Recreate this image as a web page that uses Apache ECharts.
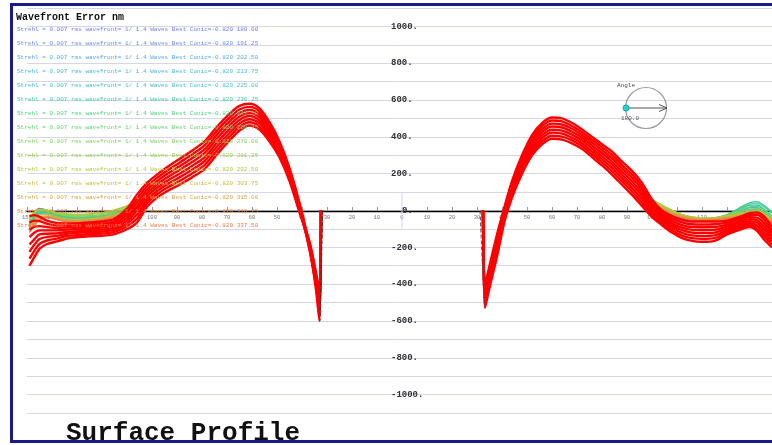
<!DOCTYPE html>
<html><head><meta charset="utf-8">
<script src="https://cdn.jsdelivr.net/npm/echarts@6/dist/echarts.min.js"></script>
<style>html,body{margin:0;padding:0;background:#fff}#c{width:772px;height:445px}</style>
</head><body><div id="c"></div>
<script>
// ---- data ----
const angles = ['180.00','191.25','202.50','213.75','225.00','236.25','247.50','258.75','270.00','281.25','292.50','303.75','315.00','326.25','337.50'];
const angleColors = ['#6f7cf2','#6a8ef0','#55a6ee','#45b6e2','#3ec2c6','#3ec9a2','#4fd07f','#62d26c','#7fd25a','#97cf45','#b3c83c','#c9bb3c','#d9a43e','#e58e40','#ee7c48'];
const xTicks = [-150,-140,-130,-120,-110,-100,-90,-80,-70,-60,-50,-40,-30,-20,-10,0,10,20,30,40,50,60,70,80,90,100,110,120,130,140];
const yTicks = [-1000,-800,-600,-400,-200,0,200,400,600,800,1000];

// signed radius positions for the full-diameter red profiles (null gap at centre)
const xPos = [-149,-147,-145,-142,-138,-134,-130,-125,-120,-115,-110,-106,-102,-98,-94,-89,-84,-79,-74,-69,-65,-61,-57,-53,-49,-45,-41,-37,-34.5,-33,-32.4,0,32.4,33.2,35,38,41,44,48,52,56,60,64,68,72,76,80,84,88,92,96,100,104,108,112,116,120,125,130,135,139,142,145,148];
const red1 = [-30,-25,-35,-55,-68,-70,-70,-65,-60,-45,10,85,150,195,235,280,325,375,455,525,568,580,555,480,375,230,40,-200,-420,-600,0,null,0,-400,-300,-130,20,160,300,410,475,505,500,475,440,400,360,320,265,215,150,60,0,-30,-50,-60,-60,-60,-55,-35,-15,-10,-35,-90];
const red2 = [-65,-55,-58,-72,-82,-82,-80,-76,-72,-58,-8,64,131,177,216,260,304,354,434,504,549,563,539,465,363,220,33,-190,-380,-575,0,null,0,-420,-317,-147,9,147,286,394,459,489,484,459,425,384,344,302,247,196,132,46,-11,-43,-64,-75,-76,-75,-66,-45,-26,-24,-53,-106];
const red3 = [-105,-88,-85,-90,-95,-92,-90,-86,-82,-70,-24,42,113,159,198,240,284,332,412,484,530,546,522,450,350,210,26,-215,-400,-550,0,null,0,-440,-334,-164,-3,134,271,379,442,472,467,444,410,369,327,284,229,178,114,33,-23,-56,-79,-90,-91,-90,-76,-55,-36,-39,-71,-121];
const red4 = [-145,-120,-108,-108,-108,-104,-100,-97,-93,-80,-40,21,94,141,179,220,263,311,391,463,511,529,506,435,338,200,19,-180,-360,-525,0,null,0,-455,-351,-181,-14,121,257,363,426,456,451,428,395,353,311,266,211,159,96,19,-34,-69,-93,-105,-107,-105,-87,-65,-47,-53,-89,-137];
const red5 = [-185,-155,-130,-126,-124,-116,-112,-107,-104,-93,-55,0,76,123,161,200,242,289,369,442,492,513,489,420,325,190,11,-205,-390,-500,0,null,0,-470,-369,-199,-26,109,243,347,409,439,434,412,380,337,294,249,194,141,79,6,-46,-81,-107,-120,-123,-120,-98,-75,-58,-67,-106,-153];
const red6 = [-225,-185,-155,-144,-138,-126,-122,-117,-114,-104,-70,-22,57,105,142,180,221,268,348,421,473,496,473,405,313,180,4,-175,-340,-480,0,null,0,-490,-386,-216,-37,96,229,331,393,423,418,396,365,321,278,231,176,122,61,-8,-57,-94,-121,-135,-139,-135,-109,-85,-69,-81,-124,-169];
const red7 = [-262,-218,-182,-163,-153,-138,-134,-128,-125,-116,-86,-43,39,88,124,160,201,246,326,401,454,479,456,390,300,170,-3,-195,-370,-455,0,null,0,-510,-403,-233,-49,83,214,316,376,406,401,381,350,306,261,213,158,104,43,-21,-69,-107,-136,-150,-154,-150,-119,-95,-79,-96,-142,-184];
const red8 = [-300,-252,-208,-182,-168,-152,-145,-140,-137,-128,-102,-65,20,70,105,140,180,225,305,380,435,462,440,375,288,160,-10,-170,-330,-430,0,null,0,-530,-420,-250,-60,70,200,300,360,390,385,365,335,290,245,195,140,85,25,-35,-80,-120,-150,-165,-170,-165,-130,-105,-90,-110,-160,-200];

// visible edge portions of the per-angle profiles
const xEdge = [-149,-147,-145,-142,-138,-134,-130,-125,-120,-115,-110,-106,-102,-98,0,96,100,104,108,112,116,120,125,130,135,139,142,145,148];
const p180 = [-70,-10,12,2,-22,-35,-40,-38,-32,-18,5,38,75,115,null,90,40,-20,-60,-62,-60,-58,-55,-45,-25,-10,-8,-25,-55];
const p191 = [-80,-20,4,-3,-27,-40,-45,-43,-37,-23,0,33,70,110,null,92,45,-10,-45,-58,-60,-58,-55,-45,-20,-5,-3,-20,-50];
const p202 = [-90,-30,-5,-10,-32,-45,-50,-48,-42,-28,-5,28,65,105,null,95,50,0,-35,-52,-57,-56,-52,-40,-12,5,5,-15,-45];
const p213 = [-100,-40,-14,-15,-37,-50,-55,-53,-47,-33,-10,23,60,100,null,95,52,5,-28,-48,-54,-54,-50,-36,-5,15,15,-8,-40];
const p225 = [-95,-45,-18,-18,-38,-52,-56,-55,-48,-35,-13,20,56,95,null,97,55,12,-20,-42,-50,-52,-47,-30,5,28,30,5,-30];
const p236 = [-85,-35,-10,-12,-32,-44,-48,-46,-40,-27,-5,30,66,105,null,98,57,18,-12,-36,-46,-49,-44,-25,15,42,48,25,-10];
const p247 = [-75,-30,-6,-8,-28,-38,-42,-40,-34,-21,2,38,74,112,null,99,58,22,-8,-32,-43,-47,-42,-22,10,35,40,18,-15];
const p258 = [-65,-20,-2,-4,-23,-32,-36,-34,-28,-14,10,45,82,120,null,100,60,26,-3,-27,-40,-45,-40,-24,0,20,22,2,-30];
const p270 = [-60,-15,2,0,-18,-26,-30,-28,-22,-8,16,52,90,128,null,100,60,28,0,-24,-37,-43,-40,-26,-8,8,10,-8,-38];
const p281 = [-55,-10,4,2,-14,-21,-24,-22,-16,-2,22,57,96,135,null,100,60,30,2,-22,-35,-42,-40,-28,-14,-2,0,-18,-48];
const p292 = [-50,-5,6,3,-11,-17,-20,-18,-12,3,26,60,98,138,null,98,57,26,0,-22,-35,-41,-40,-30,-18,-8,-5,-22,-52];
const p303 = [-90,-50,-25,-20,-36,-45,-47,-45,-38,-24,0,33,68,105,null,95,52,20,-5,-25,-37,-43,-42,-33,-22,-12,-10,-28,-58];
const p315 = [-105,-60,-35,-30,-43,-52,-55,-51,-44,-29,-8,26,61,98,null,90,45,12,-12,-30,-42,-47,-45,-37,-26,-16,-13,-32,-62];
const p326 = [-115,-70,-45,-35,-48,-58,-62,-58,-50,-35,-15,20,54,92,null,85,38,4,-20,-36,-46,-51,-49,-42,-30,-20,-16,-36,-66];
const p337 = [-120,-80,-50,-38,-50,-61,-65,-61,-52,-38,-18,18,51,90,null,80,30,-5,-28,-42,-50,-55,-53,-46,-34,-24,-20,-40,-70];

// central obstruction edges
const obstLeftX = [-31.7,-32.8], obstLeftY = [0,-600];
const obstRightX = [31.2,32.9], obstRightY = [0,-527];
const centreX = [0,0], centreY = [98,-98];

// ---- build ----
const FONT = 'Liberation Mono';
const edgeProfiles = [p180,p191,p202,p213,p225,p236,p247,p258,p270,p281,p292,p303,p315,p326,p337];
const redProfiles = [red1,red2,red3,red4,red5,red6,red7,red8];
const names = angles.map(a => 'Strehl = 0.007 rms wavefront= 1/ 1.4 Waves Best Conic=-0.820 ' + a);
const pair = (xs, ys) => xs.map((x, i) => [x, ys[i] === null ? '-' : ys[i]]);

const series = [];
edgeProfiles.forEach((p, i) => series.push({
  name: names[i], type: 'line', data: pair(xEdge, p), showSymbol: false,
  smooth: 0.3, lineStyle: { color: angleColors[i], width: 1.3 },
  itemStyle: { color: angleColors[i] }, silent: true
}));
redProfiles.forEach(p => series.push({
  type: 'line', data: pair(xPos, p), showSymbol: false, smooth: 0.3,
  lineStyle: { color: '#ff0000', width: 2.4 }, silent: true
}));
series.push({ type: 'line', data: pair(obstLeftX, obstLeftY), showSymbol: false,
  lineStyle: { color: '#333', width: 1, type: [4, 2] }, silent: true });
series.push({ type: 'line', data: pair(obstRightX, obstRightY), showSymbol: false,
  lineStyle: { color: '#555', width: 1, type: [4, 2] }, silent: true });
series.push({ type: 'line', data: pair(centreX, centreY), showSymbol: false, z: 1,
  lineStyle: { color: '#d6d6ea', width: 1 }, silent: true });

const chart = echarts.init(document.getElementById('c'), null, { renderer: 'canvas' });
chart.setOption({
  animation: false,
  backgroundColor: '#fff',
  title: [
    { text: 'Wavefront Error nm', left: 16, top: 11, padding: 0,
      textStyle: { fontFamily: FONT, fontWeight: 'bold', fontSize: 10, color: '#111', lineHeight: 12 } },
    { text: 'Surface Profile', left: 66, top: 419, padding: 0,
      textStyle: { fontFamily: FONT, fontWeight: 'bold', fontSize: 26, color: '#111', lineHeight: 28 } }
  ],
  legend: {
    orient: 'vertical', left: 12, top: 26, icon: 'none', itemWidth: 0, itemHeight: 7, itemGap: 7,
    selectedMode: false, padding: 0,
    textStyle: { fontFamily: FONT, fontSize: 6, lineHeight: 7 },
    data: names.map((n, i) => ({ name: n, textStyle: { color: angleColors[i] } }))
  },
  grid: { left: 27, right: 0, top: 8, bottom: 32, containLabel: false },
  xAxis: {
    type: 'value', min: -150, max: 148, interval: 10, position: 'bottom', offset: -202,
    axisLine: { onZero: false, lineStyle: { color: '#000', width: 1.4 } },
    axisTick: { show: true, inside: true, length: 4, lineStyle: { color: '#999' } },
    axisLabel: { fontFamily: FONT, fontSize: 5.5, color: '#777', margin: 4, showMaxLabel: false,
      customValues: xTicks, formatter: v => String(Math.abs(v)) },
    splitLine: { show: false }
  },
  yAxis: {
    type: 'value', min: -1100, max: 1100, interval: 100,
    axisLine: { show: false }, axisTick: { show: false },
    splitLine: { lineStyle: { color: '#d6d6ea', width: 1 } },
    axisLabel: {
      inside: true, margin: 364, fontFamily: FONT, fontWeight: 'bold', fontSize: 9, color: '#333',
      formatter: v => yTicks.indexOf(v) < 0 ? '' : (v === 0 ? '{z|0.}' : v + '.'),
      rich: { z: { fontFamily: FONT, fontWeight: 'bold', fontSize: 9, color: '#333', padding: [0, 0, 0, 11] } }
    }
  },
  graphic: [
    { type: 'rect', shape: { x: 11.5, y: 4.5, width: 800, height: 437 }, z: 100,
      style: { fill: 'none', stroke: '#1a1a8a', lineWidth: 3 }, silent: true },
    { type: 'circle', shape: { cx: 646, cy: 108, r: 20.5 }, style: { fill: 'none', stroke: '#9a9a9a', lineWidth: 1.2 }, z: 50 },
    { type: 'line', shape: { x1: 626, y1: 108, x2: 667, y2: 108 }, style: { stroke: '#555', lineWidth: 1 }, z: 50 },
    { type: 'polyline', shape: { points: [[659, 104.5], [667, 108], [659, 111.5]] }, style: { stroke: '#555', fill: 'none', lineWidth: 1 }, z: 50 },
    { type: 'circle', shape: { cx: 626, cy: 108, r: 3 }, style: { fill: '#22d3d3', stroke: '#1aa' }, z: 51 },
    { type: 'text', left: 617, top: 82, style: { text: 'Angle', font: '6px "Liberation Mono"', fill: '#444' }, z: 50 },
    { type: 'text', left: 621, top: 115, style: { text: '180.0', font: '6px "Liberation Mono"', fill: '#555' }, z: 50 }
  ],
  series: series
});
</script></body></html>
